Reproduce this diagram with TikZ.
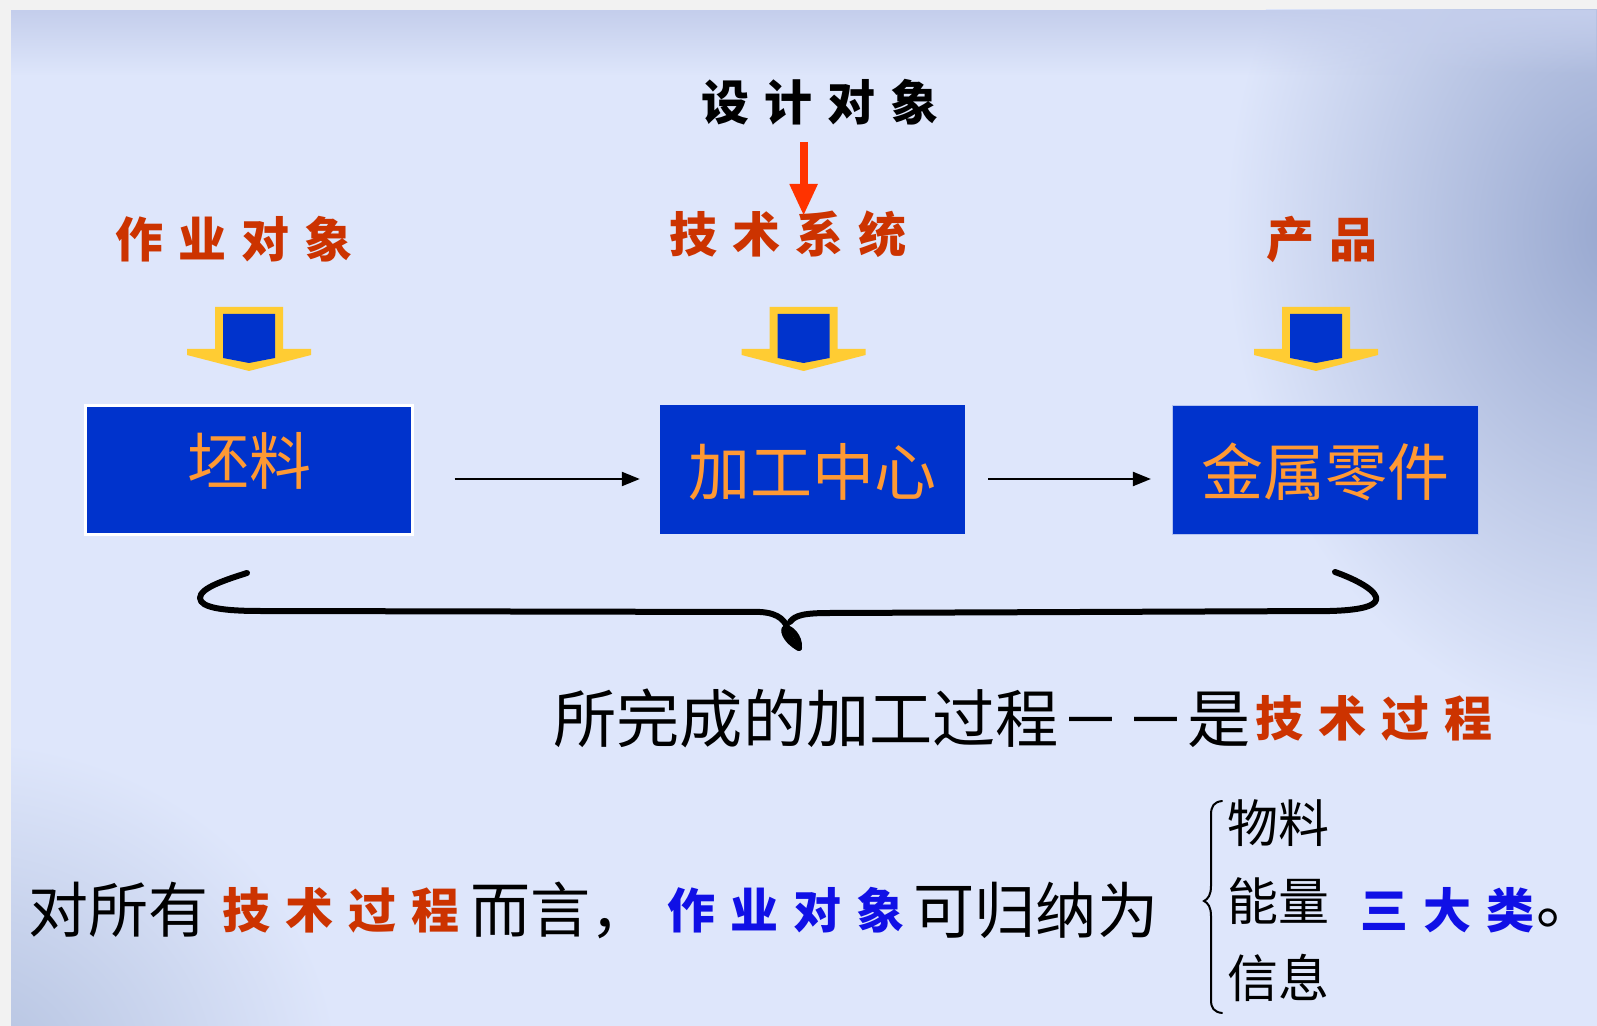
\documentclass[tikz,border=0pt]{standalone}
\usepackage{fontspec}
\setmainfont{Noto Sans CJK SC}
\newfontfamily\dashfont{Liberation Sans}
\usetikzlibrary{arrows.meta,fadings}
\definecolor{frame}{RGB}{242,242,242}
\definecolor{bg}{RGB}{222,230,251}
\definecolor{bgtop}{RGB}{196,206,236}
\definecolor{cloud}{RGB}{150,166,206}
\definecolor{cloudbl}{RGB}{178,192,222}
\definecolor{boxblue}{RGB}{0,51,204}
\definecolor{boxtext}{RGB}{255,153,51}
\definecolor{lblred}{RGB}{204,51,0}
\definecolor{arrred}{RGB}{255,51,0}
\definecolor{iconyel}{RGB}{255,204,51}
\definecolor{iconblue}{RGB}{0,51,204}
\definecolor{txtblue}{RGB}{16,16,230}
\newcommand\gp{\hspace{7.5pt}}
\newcommand\dsh{\makebox[1.02em][c]{\raisebox{0.1em}{\resizebox{0.68em}{\height}{\dashfont —}}}}
\tikzfading[name=fadedown, top color=transparent!0, bottom color=transparent!100]
\tikzset{
  box/.style={fill=boxblue, minimum height=64.5pt, inner sep=0pt},
  boxtxt/.style={text=boxtext, font=\fontsize{31}{31}\selectfont, inner sep=0pt},
  lbl/.style={text=lblred, font=\fontsize{24}{24}\selectfont\bfseries, inner sep=0pt, anchor=west},
  txt/.style={text=black, font=\fontsize{31.6}{31.6}\selectfont, inner sep=0pt, anchor=west},
  btxt/.style={text=black, font=\fontsize{30}{30}\selectfont, inner sep=0pt, anchor=west},
  stxt/.style={text=black, font=\fontsize{25.5}{25.5}\selectfont, inner sep=0pt, anchor=west},
  conn/.style={draw=black, line width=1.1pt, -{Triangle[length=9pt,width=7pt]}},
  redarr/.style={draw=arrred, line width=4pt, -{Triangle[length=16pt,width=13pt]}},
  bigbrace/.style={draw=black, line width=3pt, line cap=round, line join=round},
  smallbrace/.style={draw=black, line width=1pt, line cap=round},
}
\newcommand\icon[1]{%
  \begin{scope}[shift={(#1,0)}]
    \fill[iconyel] (-34,307) -- (34,307) -- (34,349) -- (62,349) -- (62,355) -- (0,371) -- (-62,355) -- (-62,349) -- (-34,349) -- cycle;
    \fill[iconblue] (-26,314) -- (26,314) -- (26,358) -- (0,363) -- (-26,358) -- cycle;
  \end{scope}}
\begin{document}
\begin{tikzpicture}[x=0.5pt,y=-0.5pt]
\useasboundingbox (0,0) rectangle (1597,1026);
% background
\fill[frame] (0,0) rectangle (1597,1026);
\fill[bg] (11,10) rectangle (1597,1026);
\begin{scope}
\clip (11,10) rectangle (1597,1026);
\shade[inner color=cloud, outer color=bg] (1625,230) ellipse [x radius=200pt, y radius=250pt];
\shade[inner color=cloudbl, outer color=bg] (-40,1080) ellipse [x radius=190pt, y radius=170pt];
\fill[bgtop, path fading=fadedown] (11,10) rectangle (1597,75);
\end{scope}

% top labels
\node[lbl, text=black] (des) at (701,102) {设\gp 计\gp 对\gp 象};
\node[lbl] (l1) at (115,239) {作\gp 业\gp 对\gp 象};
\node[lbl] (l2) at (669,234) {技\gp 术\gp 系\gp 统};
\node[lbl] (l3) at (1266,239) {产\gp 品};

% red arrow
\coordinate (rs) at (803.6,142);
\coordinate (re) at (803.6,216);
\draw[redarr] (rs) -- (re);

% icons
\icon{249}
\icon{803.6}
\icon{1316}

% boxes
\node[box, minimum width=163.5pt, draw=white, line width=1.2pt] (b1) at (249,470) {};
\node[box, minimum width=152.5pt] (b2) at (812.7,470) {};
\node[box, minimum width=153pt, draw=white!70!boxblue, line width=0.6pt] (b3) at (1325.5,470) {};
\node[boxtxt] (t1) at ([yshift=4.5pt]b1.center) {坯料};
\node[boxtxt] (t2) at ([yshift=-0.8pt]b2.center) {加工中心};
\node[boxtxt] (t3) at ([yshift=-0.8pt]b3.center) {金属零件};

% connectors
\draw[conn, shorten <=20.5pt, shorten >=10pt] ([yshift=-4.5pt]b1.east) -- ([yshift=-4.5pt]b2.west);
\draw[conn, shorten <=11.25pt, shorten >=10.5pt] ([yshift=-4.5pt]b2.east) -- ([yshift=-4.5pt]b3.west);

% big brace
\draw[bigbrace] (247,573) .. controls (225,580) and (200,588) .. (200,598)
  .. controls (200,608) and (225,611) .. (260,611) -- (760,612)
  .. controls (780,613) and (786,622) .. (788,630)
  .. controls (790,640) and (795,646) .. (799,648);
\draw[bigbrace] (799,648) .. controls (800,636) and (790,628) .. (786,628)
  .. controls (782,628) and (784,640) .. (799,648);
\draw[bigbrace] (790,622) .. controls (795,615) and (805,613) .. (830,613) -- (1330,611)
  .. controls (1368,610) and (1378,604) .. (1376,597)
  .. controls (1373,588) and (1352,578) .. (1335,572);

% process line
\node[txt] (p1) at (553,718) {所完成的加工过程\dsh\dsh 是};
\node[lbl] (p2) at (1255,718) {技\gp 术\gp 过\gp 程};

% bottom line
\node[btxt] (q1) at (28,910) {对所有};
\node[lbl] (q2) at (222,910) {技\gp 术\gp 过\gp 程};
\node[btxt] (q3) at (470,910) {而言，};
\node[lbl, text=txtblue] (q4) at (667,910) {作\gp 业\gp 对\gp 象};
\node[btxt, font=\fontsize{30.6}{30.6}\selectfont] (q5) at (913,910) {可归纳为};
\node[stxt] (m1) at (1227,823) {物料};
\node[stxt] (m2) at (1227,901) {能量};
\node[stxt] (m3) at (1227,978) {信息};
\node[lbl, text=txtblue] (q6) at (1360,910) {三\gp 大\gp 类};
\node[btxt] (q7) at (1536,918) {。};

% small brace
\draw[smallbrace] (1222,801) .. controls (1214,802) and (1211,806) .. (1211,815) -- (1211,886)
  .. controls (1211,895) and (1208,899) .. (1204,901)
  .. controls (1208,903) and (1211,907) .. (1211,916) -- (1211,1000)
  .. controls (1211,1008) and (1214,1012) .. (1222,1013);
\end{tikzpicture}
\end{document}
